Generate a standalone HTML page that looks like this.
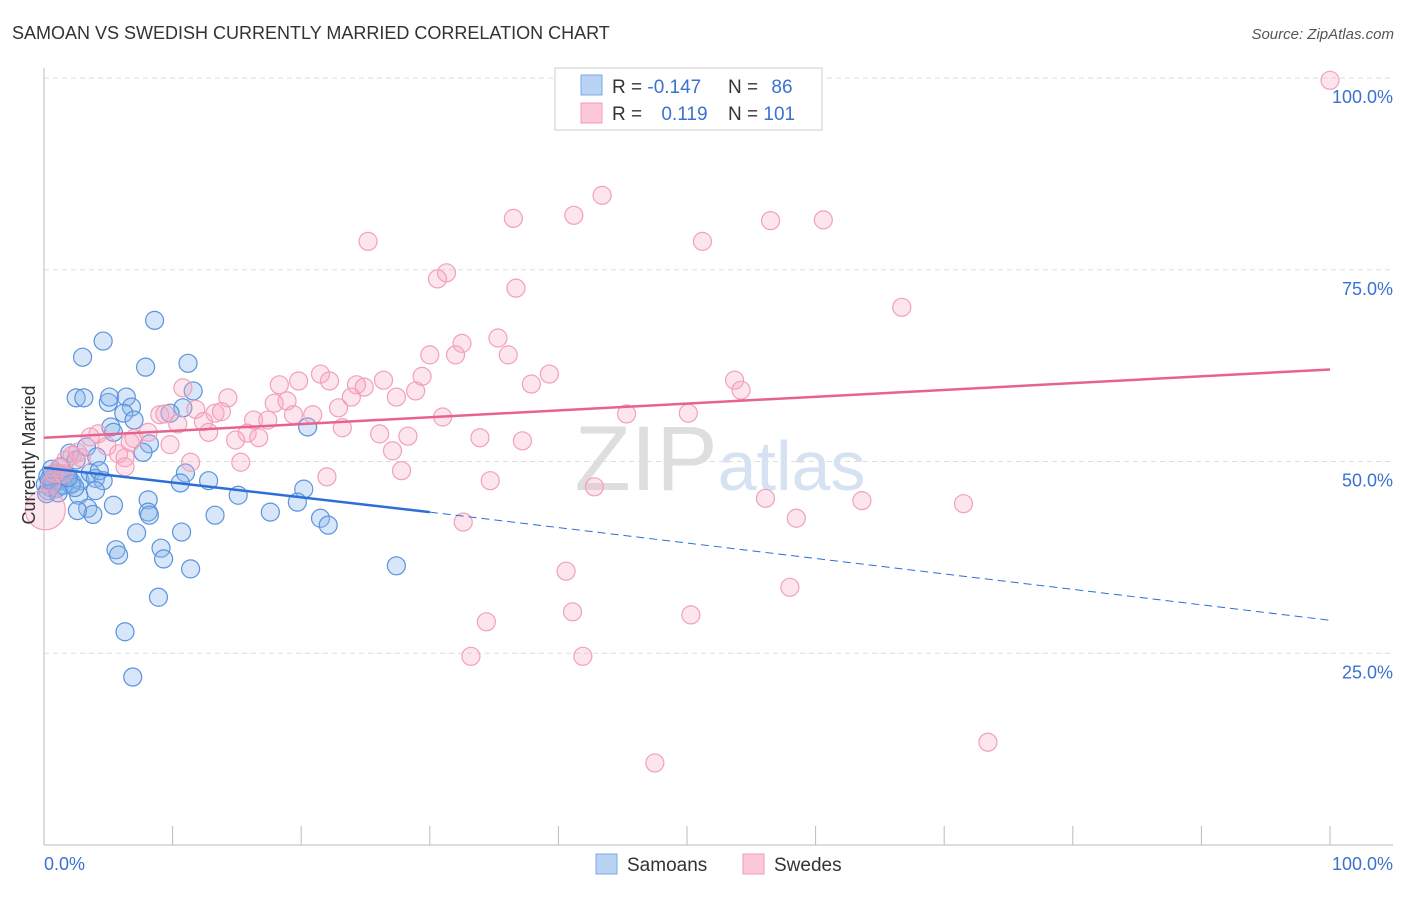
<!DOCTYPE html>
<html><head><meta charset="utf-8"><style>
body{margin:0;background:#fff;font-family:"Liberation Sans",sans-serif}
svg text{font-family:"Liberation Sans",sans-serif}
</style></head><body>
<svg id="chart" width="1406" height="892" xmlns="http://www.w3.org/2000/svg">
<text x="12" y="39" font-size="18" fill="#333">SAMOAN VS SWEDISH CURRENTLY MARRIED CORRELATION CHART</text>
<text x="1394" y="39" font-size="15" fill="#555" font-style="italic" text-anchor="end">Source: ZipAtlas.com</text>
<g id="grid"></g>
<g id="axes"></g>
<text x="720" y="490" font-size="92" fill="#e4e4e4" text-anchor="middle" font-family="Liberation Serif"><tspan fill="#dedede">ZIP</tspan><tspan fill="#d6e2f2" font-family="Liberation Sans" font-size="70">atlas</tspan></text>
<g id="marks"></g>
<g id="lines"></g>
<text x="35" y="455" font-size="18" fill="#333" text-anchor="middle" transform="rotate(-90 35 455)">Currently Married</text>
<g>
<rect x="555" y="68" width="267" height="62" fill="#fff" stroke="#ccc"/>
<rect x="581" y="75" width="21" height="20" fill="#b9d3f5" stroke="#7aa9e6"/>
<rect x="581" y="103" width="21" height="20" fill="#fcc9d8" stroke="#f09ab5"/>
<text x="612" y="93" font-size="19" fill="#333">R = <tspan fill="#3a72d0">-0.147</tspan></text>
<text x="728" y="93" font-size="19" fill="#333">N = <tspan fill="#3a72d0" dx="8">86</tspan></text>
<text x="612" y="120" font-size="19" fill="#333">R = <tspan fill="#3a72d0" dx="14">0.119</tspan></text>
<text x="728" y="120" font-size="19" fill="#333">N = <tspan fill="#3a72d0">101</tspan></text>
</g>
<g>
<rect x="596" y="854" width="21" height="20" fill="#b9d3f5" stroke="#7aa9e6"/>
<text x="627" y="871" font-size="19" fill="#333">Samoans</text>
<rect x="743" y="854" width="21" height="20" fill="#fcc9d8" stroke="#f09ab5"/>
<text x="774" y="871" font-size="19" fill="#333">Swedes</text>
</g>
</svg>
<script>
const yTicks=[25,50,75,100];
const yTickLabels=["25.0%","50.0%","75.0%","100.0%"];
const xTickLabels=["0.0%","100.0%"];
const samoanX=[8.6,4.6,3.0,7.9,11.2,2.5,3.1,5.0,5.1,6.4,6.8,11.6,10.8,6.2,7.0,9.8,5.2,5.4,20.5,8.2,7.7,3.3,4.1,2.0,2.5,0.9,1.3,0.5,1.6,2.2,2.8,3.6,4.0,4.3,4.6,4.0,11.0,10.6,12.8,15.1,20.2,19.7,2.7,3.4,3.8,2.6,5.4,8.1,8.1,8.2,13.3,17.6,21.5,22.1,10.7,7.2,5.6,5.8,9.1,9.3,11.4,27.4,8.9,6.3,6.9,0.1,0.5,0.9,1.2,0.3,1.4,0.6,0.2,1.0,1.8,2.1,0.4,0.8,1.5,0.7,1.1,0.3,2.4,1.9,0.6,1.3];
const samoanY=[68.4,65.7,63.6,62.3,62.8,58.3,58.3,57.7,58.4,58.4,57.1,59.2,57.0,56.3,55.4,56.3,54.5,53.8,54.5,52.3,51.2,51.9,50.6,51.1,50.2,48.5,47.5,46.6,47.8,47.2,47.5,48.5,47.8,48.8,47.5,46.2,48.5,47.2,47.5,45.6,46.4,44.7,45.6,43.9,43.1,43.6,44.3,45.0,43.4,43.0,43.0,43.4,42.6,41.7,40.8,40.7,38.5,37.8,38.7,37.3,36.0,36.4,32.3,27.8,21.9,47.0,48.0,47.3,46.8,46.2,48.2,47.7,45.8,46.5,48.0,47.0,47.6,48.4,46.9,47.2,45.9,48.1,46.6,47.9,49.0,49.3];
const swedeX=[46.8,100,43.4,41.2,36.5,56.5,60.6,25.2,51.2,31.3,30.6,36.7,66.7,35.3,32.5,30.0,32.0,36.1,21.5,39.3,19.8,22.2,29.4,26.4,24.3,24.9,37.9,53.7,54.2,10.8,18.3,28.9,27.4,14.3,18.9,17.9,23.9,22.9,11.8,13.3,13.8,9.0,9.4,19.4,20.9,31.0,45.3,50.1,16.3,17.4,10.4,12.4,23.2,12.8,15.8,16.7,14.9,26.1,28.3,33.9,37.2,4.2,3.6,7.0,8.1,4.9,5.8,6.3,6.7,9.8,27.1,11.4,15.3,6.3,1.7,2.2,2.6,1.2,0.8,27.8,22.0,34.7,42.8,56.1,63.6,71.5,58.5,32.6,40.6,58.0,41.1,50.3,34.4,33.2,41.9,73.4,47.5,0.1,0.5,1.5,2.9];
const swedeY=[99.9,99.7,84.7,82.1,81.7,81.4,81.5,78.7,78.7,74.6,73.8,72.6,70.1,66.1,65.4,63.9,63.9,63.9,61.4,61.4,60.5,60.5,61.1,60.6,60.0,59.7,60.1,60.6,59.3,59.6,60.0,59.2,58.4,58.3,57.9,57.6,58.4,57.0,56.8,56.3,56.5,56.1,56.2,56.1,56.1,55.8,56.2,56.3,55.4,55.4,54.9,55.2,54.4,53.8,53.7,53.1,52.8,53.6,53.3,53.1,52.7,53.6,53.2,53.0,53.8,52.0,51.0,50.5,52.5,52.2,51.4,49.9,49.9,49.3,50.2,50.8,51.2,49.2,48.5,48.8,48.0,47.5,46.7,45.2,44.9,44.5,42.6,42.1,35.7,33.6,30.4,30.0,29.1,24.6,24.6,13.4,10.7,43.7,47.0,48.4,50.5];
const samoanTrend=[49.2,43.4,29.3];   // at x = 0, 30, 100
const swedeTrend=[53.1,62.0];         // at x = 0, 100
const NS="http://www.w3.org/2000/svg";
const X0=44,X1=1330,Y0=845,Y100=78;
const sx=v=>X0+(X1-X0)*v/100;
const sy=v=>Y0-(Y0-Y100)*v/100;
function mk(tag,attrs,parent){const e=document.createElementNS(NS,tag);for(const k in attrs)e.setAttribute(k,attrs[k]);parent.appendChild(e);return e;}
const grid=document.getElementById('grid'),axes=document.getElementById('axes'),marks=document.getElementById('marks'),lines=document.getElementById('lines');
yTicks.forEach((t,i)=>{
 const l=mk('line',{x1:X0,x2:1393,y1:sy(t),y2:sy(t),stroke:'#ddd','stroke-dasharray':'5,4'},grid);
 
 
 const tx=mk('text',{x:1393,y:sy(t)+25,'font-size':18,fill:'#3a72d0','text-anchor':'end'},axes);
 tx.textContent=yTickLabels[i];
 
 
});
const la=mk('line',{x1:X0,x2:X0,y1:68,y2:Y0,stroke:'#bbb'},axes);


const ba=mk('line',{x1:X0,x2:1393,y1:Y0,y2:Y0,stroke:'#bbb'},axes);


for(let i=0;i<=10;i++){
 const t=mk('line',{x1:sx(i*10),x2:sx(i*10),y1:826,y2:Y0,stroke:'#bbb'},axes);
 
 
}
[[0,'start',X0],[100,'end',1393]].forEach((a,i)=>{
 const tx=mk('text',{x:a[2],y:870,'font-size':18,fill:'#3a72d0','text-anchor':a[1]},axes);
 tx.textContent=xTickLabels[i];
 
 
});
samoanX.forEach((x,i)=>{
 const c=mk('circle',{cx:sx(x),cy:sy(samoanY[i]),r:9,fill:'rgba(140,182,236,0.35)',stroke:'#5b93de','stroke-width':1.2},marks);
 
 
});
swedeX.forEach((x,i)=>{
 const c=mk('circle',{cx:sx(x),cy:sy(swedeY[i]),r:(i===97?20:9),fill:'rgba(248,170,195,0.3)',stroke:'#f2a0b9','stroke-width':1.2},marks);
 
 
});
const p=mk('line',{x1:sx(0),y1:sy(swedeTrend[0]),x2:sx(100),y2:sy(swedeTrend[1]),stroke:'#e8628e','stroke-width':2.5},lines);


const b=mk('line',{x1:sx(0),y1:sy(samoanTrend[0]),x2:sx(30),y2:sy(samoanTrend[1]),stroke:'#2c6fd6','stroke-width':2.5},lines);


const bd=mk('line',{x1:sx(30),y1:sy(samoanTrend[1]),x2:sx(100),y2:sy(samoanTrend[2]),stroke:'#2c6fd6','stroke-width':1,'stroke-dasharray':'8,5'},lines);


</script>
</body></html>
